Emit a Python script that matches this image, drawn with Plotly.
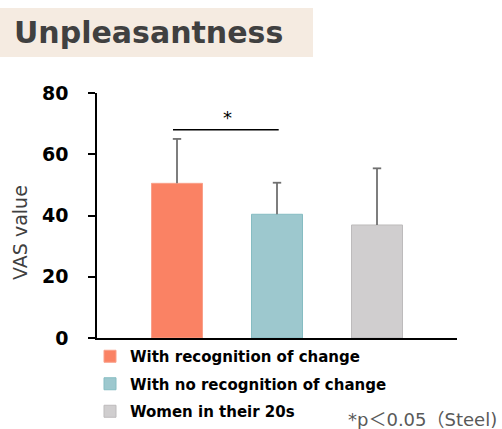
import plotly.graph_objects as go

# values
groups = ['With recognition of change', 'With no recognition of change', 'Women in their 20s']
means = [50.5, 40.4, 36.9]
sd_upper = [14.5, 10.3, 18.5]
colors = ['#FA8264', '#9DC8CE', '#D0CECF']
edge_colors = ['#F9A08A', '#86BCC2', '#BDBBBC']
y_ticks = [0, 20, 40, 60, 80]
sig_pair = (0, 1)
sig_level = 68

FONT = 'DejaVu Sans, Noto Sans CJK JP, sans-serif'

fig = go.Figure()

for i, name in enumerate(groups):
    fig.add_trace(go.Bar(
        x=[i],
        y=[means[i]],
        name=name,
        legendgroup=name,
        width=0.51,
        marker=dict(color=colors[i], line=dict(color=edge_colors[i], width=1)),
    ))

# upper-only error bars (stem from bar top to mean + SD, small cap on top)
err_x, err_y = [], []
for i, (m, s) in enumerate(zip(means, sd_upper)):
    err_x += [i, i, None]
    err_y += [m, m + s, None]
fig.add_trace(go.Scatter(
    x=err_x, y=err_y, mode='lines', showlegend=False, hoverinfo='skip',
    line=dict(color='#707070', width=1.8),
))
fig.add_trace(go.Scatter(
    x=list(range(len(means))), y=[m + s for m, s in zip(means, sd_upper)],
    mode='markers', showlegend=False, hoverinfo='skip',
    marker=dict(symbol='line-ew', size=6, line=dict(color='#707070', width=1.8)),
))

# significance bracket
fig.add_shape(type='line', xref='x', yref='y',
              x0=sig_pair[0] - 0.04, x1=sig_pair[1] + 0.017, y0=sig_level, y1=sig_level,
              line=dict(color='#000000', width=1.5))
fig.add_annotation(x=(sig_pair[0] + sig_pair[1]) / 2, y=sig_level, yanchor='bottom',
                   text='*', showarrow=False, font=dict(family=FONT, size=18, color='#000000'))

# title box
fig.add_shape(type='rect', xref='paper', yref='paper', layer='below',
              x0=-0.2694, x1=0.6, y0=(338 - 57) / 245, y1=(338 - 8) / 245,
              fillcolor='#F5EBE1', line=dict(width=0))
fig.add_annotation(xref='paper', yref='paper', x=-0.237, y=(338 - 33) / 245,
                   xanchor='left', yanchor='middle', showarrow=False,
                   text='<b>Unpleasantness</b>',
                   font=dict(family=FONT, size=30, color='#404040'))

# y-axis title
fig.add_annotation(xref='paper', yref='paper', x=-0.214, y=(338 - 232) / 245,
                   xanchor='center', yanchor='middle', showarrow=False, textangle=-90,
                   text='VAS value',
                   font=dict(family=FONT, size=19, color='#404040'))

# footnote
fig.add_annotation(xref='paper', yref='paper', x=1.117, y=(338 - 419) / 245,
                   xanchor='right', yanchor='middle', showarrow=False,
                   text='*p＜0.05（Steel)',
                   font=dict(family=FONT, size=18, color='#595959'))

fig.update_layout(
    width=502,
    height=429,
    margin=dict(l=97, r=45, t=93, b=91, autoexpand=False),
    plot_bgcolor='white',
    paper_bgcolor='white',
    font=dict(family=FONT, color='#000000'),
    showlegend=True,
    legend=dict(
        xref='container', yref='container',
        x=90 / 502, y=1 - 340 / 429, xanchor='left', yanchor='top',
        font=dict(family=FONT, size=15, color='#000000', weight='bold'),
        tracegroupgap=5,
        itemwidth=30,
        bgcolor='rgba(0,0,0,0)',
    ),
)

fig.update_xaxes(
    range=[-0.8, 2.8],
    showticklabels=False,
    ticks='',
    showgrid=False,
    zeroline=False,
    showline=True,
    linecolor='#000000',
    linewidth=1.5,
)

fig.update_yaxes(
    range=[0, 80],
    automargin=False,
    tickvals=y_ticks,
    ticktext=[f'<b>{v}</b>' for v in y_ticks],
    tickfont=dict(family=FONT, size=19, color='#000000'),
    ticks='outside',
    ticklen=7,
    tickwidth=1.5,
    tickcolor='#000000',
    ticklabelstandoff=16,
    showgrid=False,
    zeroline=False,
    showline=True,
    linecolor='#000000',
    linewidth=1.5,
)

# drop the page's default body margin so the figure sits at the window origin
fig.write_html("out.html", config={'displayModeBar': False},
               post_script="document.body.style.margin='0';")
